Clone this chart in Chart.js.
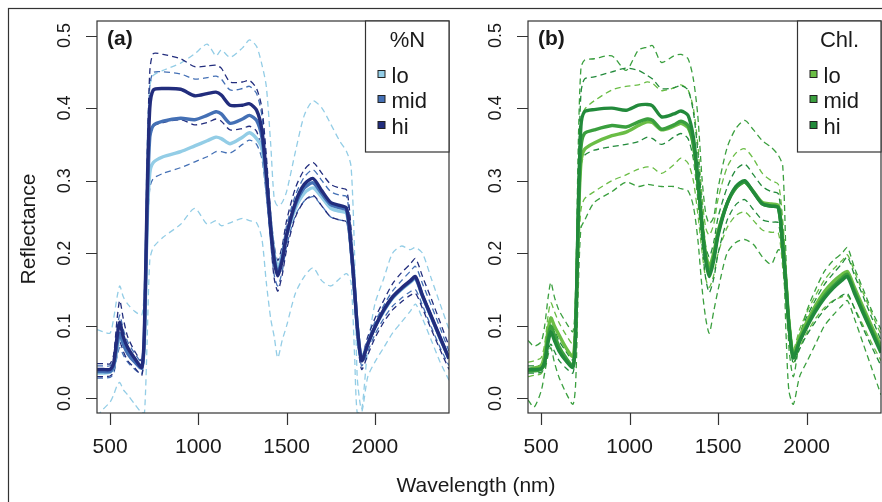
<!DOCTYPE html>
<html>
<head>
<meta charset="utf-8">
<script src="https://cdn.jsdelivr.net/npm/chart.js@4.4.1/dist/chart.umd.min.js"></script>
<style>
  html, body { margin: 0; padding: 0; background: #fff; }
  #wrap { position: relative; width: 882px; height: 502px; overflow: hidden; }
  canvas { position: absolute; left: 0; top: 0; }
</style>
</head>
<body>
<div id="wrap">
  <canvas id="chartA" width="882" height="502"></canvas>
  <canvas id="chartB" width="882" height="502"></canvas>
</div>
<script>
// wavelengths (nm) shared by every series
const wavelength = [426, 460, 500, 520, 540, 555, 575, 600, 640, 680, 695, 710, 725, 745, 800, 900, 980, 1050, 1100, 1130,
  1180, 1250, 1290, 1330, 1360, 1385, 1410, 1430, 1450, 1475, 1500, 1550, 1600, 1650, 1700, 1750, 1800, 1840, 1865, 1885,
  1900, 1925, 1960, 2000, 2050, 2100, 2150, 2200, 2230, 2270, 2320, 2370, 2420];
const xTicks = [500, 1000, 1500, 2000];
const yTicks = [0, 0.1, 0.2, 0.3, 0.4, 0.5];
const yTickLabels = ['0.0', '0.1', '0.2', '0.3', '0.4', '0.5'];
const groups = ['lo', 'mid', 'hi'];

// (a) %N groups: mean (solid) and envelope (dashed)
const nLoMean = [0.035, 0.035, 0.036, 0.043, 0.07, 0.085, 0.075, 0.063, 0.052, 0.045, 0.085, 0.24, 0.31, 0.325, 0.333, 0.34, 0.348, 0.355, 0.36, 0.358,
  0.351, 0.36, 0.366, 0.358, 0.345, 0.3, 0.24, 0.198, 0.18, 0.197, 0.225, 0.262, 0.283, 0.29, 0.277, 0.262, 0.258, 0.255, 0.208, 0.15,
  0.1, 0.055, 0.076, 0.098, 0.12, 0.138, 0.15, 0.16, 0.165, 0.141, 0.112, 0.083, 0.055];
const nMidMean = [0.037, 0.037, 0.037, 0.045, 0.075, 0.09, 0.075, 0.062, 0.05, 0.042, 0.09, 0.26, 0.36, 0.376, 0.382, 0.386, 0.384, 0.39, 0.395, 0.392,
  0.379, 0.385, 0.39, 0.383, 0.36, 0.305, 0.235, 0.192, 0.173, 0.193, 0.225, 0.267, 0.29, 0.297, 0.282, 0.267, 0.263, 0.259, 0.21, 0.15,
  0.1, 0.053, 0.075, 0.098, 0.121, 0.139, 0.151, 0.161, 0.166, 0.141, 0.112, 0.083, 0.055];
const nHiMean = [0.04, 0.04, 0.04, 0.048, 0.085, 0.105, 0.085, 0.07, 0.055, 0.043, 0.1, 0.28, 0.4, 0.425, 0.427, 0.426, 0.417, 0.42, 0.422, 0.418,
  0.404, 0.404, 0.406, 0.397, 0.37, 0.31, 0.235, 0.19, 0.169, 0.19, 0.225, 0.27, 0.295, 0.303, 0.286, 0.27, 0.266, 0.262, 0.21, 0.15,
  0.1, 0.052, 0.075, 0.098, 0.122, 0.14, 0.152, 0.162, 0.168, 0.142, 0.113, 0.084, 0.055];
const nLoUpper = [0.095, 0.092, 0.09, 0.11, 0.14, 0.155, 0.14, 0.13, 0.12, 0.115, 0.16, 0.35, 0.43, 0.445, 0.452, 0.462, 0.475, 0.488, 0.472, 0.48,
  0.47, 0.483, 0.494, 0.485, 0.46, 0.43, 0.35, 0.275, 0.265, 0.27, 0.285, 0.34, 0.39, 0.41, 0.4, 0.378, 0.355, 0.34, 0.32, 0.2,
  0.03, -0.015, 0.07, 0.13, 0.165, 0.2, 0.21, 0.205, 0.208, 0.2, 0.165, 0.13, 0.095];
const nLoLower = [-0.025, -0.015, -0.005, 0.005, 0.018, 0.022, 0.012, 0.005, -0.008, -0.02, -0.02, 0.08, 0.19, 0.208, 0.222, 0.24, 0.262, 0.24, 0.245, 0.238,
  0.242, 0.248, 0.245, 0.242, 0.22, 0.16, 0.11, 0.085, 0.056, 0.08, 0.1, 0.145, 0.168, 0.18, 0.162, 0.155, 0.165, 0.172, 0.16, 0.06,
  -0.02, -0.02, 0.03, 0.05, 0.07, 0.09, 0.105, 0.12, 0.13, 0.11, 0.08, 0.05, 0.025];
const nMidUpper = [0.045, 0.045, 0.045, 0.055, 0.095, 0.115, 0.095, 0.078, 0.062, 0.05, 0.11, 0.31, 0.43, 0.449, 0.45, 0.447, 0.44, 0.442, 0.444, 0.44,
  0.425, 0.427, 0.43, 0.42, 0.39, 0.325, 0.25, 0.205, 0.185, 0.205, 0.238, 0.28, 0.305, 0.315, 0.3, 0.285, 0.28, 0.278, 0.225, 0.16,
  0.105, 0.056, 0.08, 0.105, 0.128, 0.148, 0.162, 0.175, 0.182, 0.158, 0.128, 0.097, 0.065];
const nMidLower = [0.028, 0.028, 0.029, 0.034, 0.058, 0.07, 0.06, 0.05, 0.04, 0.034, 0.075, 0.22, 0.29, 0.303, 0.31, 0.318, 0.326, 0.333, 0.34, 0.34,
  0.338, 0.35, 0.356, 0.35, 0.33, 0.28, 0.215, 0.17, 0.155, 0.175, 0.21, 0.252, 0.272, 0.278, 0.265, 0.25, 0.246, 0.243, 0.19, 0.135,
  0.088, 0.045, 0.065, 0.088, 0.11, 0.127, 0.138, 0.147, 0.15, 0.128, 0.098, 0.07, 0.045];
const nHiUpper = [0.048, 0.048, 0.048, 0.06, 0.11, 0.135, 0.11, 0.085, 0.065, 0.052, 0.12, 0.32, 0.45, 0.475, 0.474, 0.468, 0.457, 0.458, 0.459, 0.455,
  0.436, 0.436, 0.438, 0.427, 0.4, 0.335, 0.255, 0.21, 0.19, 0.21, 0.245, 0.29, 0.315, 0.325, 0.31, 0.295, 0.29, 0.287, 0.235, 0.165,
  0.11, 0.058, 0.085, 0.11, 0.135, 0.158, 0.173, 0.185, 0.193, 0.168, 0.137, 0.105, 0.072];
const nHiLower = [0.03, 0.03, 0.031, 0.036, 0.062, 0.078, 0.065, 0.052, 0.042, 0.032, 0.08, 0.24, 0.355, 0.375, 0.38, 0.384, 0.377, 0.38, 0.385, 0.382,
  0.37, 0.372, 0.375, 0.368, 0.34, 0.285, 0.215, 0.165, 0.148, 0.17, 0.205, 0.25, 0.272, 0.28, 0.265, 0.25, 0.246, 0.243, 0.19, 0.13,
  0.085, 0.04, 0.06, 0.083, 0.105, 0.122, 0.133, 0.142, 0.145, 0.124, 0.095, 0.067, 0.04];

// (b) Chl. groups
const cLoMean = [0.04, 0.042, 0.045, 0.06, 0.095, 0.111, 0.1, 0.088, 0.07, 0.058, 0.1, 0.24, 0.325, 0.343, 0.352, 0.362, 0.367, 0.376, 0.381, 0.38,
  0.37, 0.375, 0.379, 0.373, 0.35, 0.3, 0.238, 0.198, 0.183, 0.2, 0.23, 0.268, 0.29, 0.298, 0.285, 0.27, 0.268, 0.266, 0.215, 0.155,
  0.105, 0.06, 0.085, 0.105, 0.128, 0.147, 0.161, 0.171, 0.175, 0.153, 0.125, 0.098, 0.072];
const cMidMean = [0.038, 0.038, 0.04, 0.05, 0.085, 0.1, 0.088, 0.072, 0.056, 0.045, 0.09, 0.25, 0.345, 0.365, 0.37, 0.376, 0.374, 0.381, 0.385, 0.383,
  0.371, 0.377, 0.382, 0.376, 0.35, 0.3, 0.235, 0.193, 0.175, 0.195, 0.228, 0.268, 0.29, 0.298, 0.284, 0.268, 0.265, 0.263, 0.21, 0.15,
  0.1, 0.057, 0.08, 0.1, 0.123, 0.141, 0.155, 0.166, 0.171, 0.148, 0.12, 0.093, 0.066];
const cHiMean = [0.04, 0.04, 0.041, 0.05, 0.078, 0.092, 0.08, 0.066, 0.052, 0.043, 0.09, 0.26, 0.375, 0.395, 0.398, 0.4, 0.397, 0.404, 0.405, 0.403,
  0.388, 0.392, 0.396, 0.39, 0.36, 0.305, 0.235, 0.19, 0.168, 0.19, 0.225, 0.268, 0.292, 0.3, 0.284, 0.268, 0.265, 0.263, 0.21, 0.15,
  0.1, 0.056, 0.078, 0.098, 0.12, 0.138, 0.152, 0.163, 0.168, 0.145, 0.117, 0.09, 0.063];
const cLoUpper = [0.05, 0.052, 0.056, 0.075, 0.115, 0.132, 0.12, 0.105, 0.088, 0.075, 0.12, 0.29, 0.38, 0.398, 0.41, 0.425, 0.43, 0.432, 0.436, 0.434,
  0.424, 0.428, 0.432, 0.425, 0.4, 0.35, 0.275, 0.235, 0.225, 0.24, 0.275, 0.318, 0.338, 0.344, 0.33, 0.31, 0.3, 0.295, 0.245, 0.175,
  0.12, 0.068, 0.095, 0.118, 0.142, 0.163, 0.178, 0.19, 0.198, 0.175, 0.145, 0.116, 0.088];
const cLoLower = [0.03, 0.032, 0.034, 0.045, 0.075, 0.09, 0.08, 0.07, 0.055, 0.045, 0.08, 0.19, 0.26, 0.275, 0.285, 0.3, 0.308, 0.316, 0.319, 0.318,
  0.31, 0.322, 0.331, 0.324, 0.3, 0.255, 0.2, 0.165, 0.153, 0.17, 0.2, 0.235, 0.252, 0.257, 0.245, 0.232, 0.229, 0.228, 0.18, 0.13,
  0.085, 0.05, 0.07, 0.09, 0.11, 0.125, 0.135, 0.14, 0.142, 0.125, 0.1, 0.075, 0.052];
const cMidUpper = [0.08, 0.072, 0.078, 0.1, 0.14, 0.16, 0.14, 0.122, 0.105, 0.092, 0.15, 0.35, 0.455, 0.466, 0.468, 0.472, 0.452, 0.48, 0.484, 0.486,
  0.463, 0.472, 0.474, 0.468, 0.44, 0.39, 0.3, 0.255, 0.241, 0.25, 0.29, 0.345, 0.372, 0.383, 0.37, 0.355, 0.346, 0.335, 0.32, 0.18,
  0.07, 0.03, 0.08, 0.12, 0.15, 0.175, 0.19, 0.2, 0.208, 0.18, 0.15, 0.12, 0.095];
const cMidLower = [-0.002, -0.012, 0.01, 0.035, 0.06, 0.07, 0.05, 0.03, 0.008, -0.008, 0.02, 0.15, 0.235, 0.245, 0.27, 0.285, 0.298, 0.292, 0.295, 0.294,
  0.292, 0.292, 0.289, 0.286, 0.265, 0.22, 0.15, 0.11, 0.09, 0.12, 0.15, 0.2, 0.215, 0.219, 0.212, 0.195, 0.185, 0.205, 0.2, 0.08,
  0.01, -0.008, 0.03, 0.05, 0.075, 0.1, 0.115, 0.128, 0.135, 0.11, 0.075, 0.04, 0.005];
const cHiUpper = [0.045, 0.045, 0.046, 0.058, 0.095, 0.112, 0.097, 0.08, 0.065, 0.053, 0.105, 0.3, 0.42, 0.44, 0.443, 0.45, 0.455, 0.452, 0.445, 0.44,
  0.427, 0.428, 0.431, 0.425, 0.395, 0.34, 0.26, 0.21, 0.195, 0.215, 0.25, 0.29, 0.315, 0.323, 0.308, 0.292, 0.285, 0.282, 0.23, 0.165,
  0.11, 0.062, 0.088, 0.112, 0.136, 0.157, 0.172, 0.186, 0.195, 0.17, 0.14, 0.11, 0.08];
const cHiLower = [0.035, 0.035, 0.036, 0.042, 0.065, 0.075, 0.065, 0.053, 0.042, 0.035, 0.075, 0.22, 0.32, 0.335, 0.342, 0.347, 0.35, 0.354, 0.36, 0.358,
  0.35, 0.36, 0.365, 0.358, 0.33, 0.275, 0.21, 0.165, 0.146, 0.165, 0.2, 0.245, 0.267, 0.274, 0.26, 0.246, 0.243, 0.242, 0.19, 0.135,
  0.088, 0.048, 0.068, 0.087, 0.106, 0.122, 0.134, 0.142, 0.145, 0.124, 0.096, 0.07, 0.045];

const nColors = ['#93cde6', '#4470b5', '#222d7d'];
const cColors = ['#6abd45', '#3a9f3e', '#228a3b'];
const FONT = '"Liberation Sans", Arial, Helvetica, sans-serif';

function pts(ys) {
  return wavelength.map((w, i) => ({ x: w, y: ys[i] }));
}

function makeDatasets(means, uppers, lowers, colors) {
  const sets = [];
  // solid means on top: hi drawn last
  [2, 1, 0].forEach((g, k) => {
    sets.push({ label: groups[g], data: pts(means[g]), borderColor: colors[g], borderWidth: 3.4, order: k });
  });
  [2, 1, 0].forEach((g, k) => {
    sets.push({ label: groups[g] + ' +', data: pts(uppers[g]), borderColor: colors[g], borderWidth: 1.3, borderDash: [6, 4], order: 3 + k });
    sets.push({ label: groups[g] + ' -', data: pts(lowers[g]), borderColor: colors[g], borderWidth: 1.3, borderDash: [6, 4], order: 3 + k });
  });
  return sets;
}

function panelPlugin(cfg) {
  return {
    id: 'panel_' + cfg.tag,
    afterDraw(chart) {
      const ctx = chart.ctx, a = chart.chartArea;
      const xs = chart.scales.x, ys = chart.scales.y;
      ctx.save();
      ctx.strokeStyle = '#333';
      ctx.fillStyle = '#1a1a1a';
      ctx.lineWidth = 1.2;
      if (cfg.frame) {
        ctx.strokeRect(8.5, 8.5, 900, 520);
      }
      ctx.strokeRect(a.left, a.top, a.right - a.left, a.bottom - a.top);

      // ticks
      ctx.beginPath();
      xTicks.forEach(v => {
        const px = Math.round(xs.getPixelForValue(v)) + 0.5;
        ctx.moveTo(px, a.bottom); ctx.lineTo(px, a.bottom + 12);
      });
      yTicks.forEach(v => {
        const py = Math.round(ys.getPixelForValue(v)) + 0.5;
        ctx.moveTo(a.left, py); ctx.lineTo(a.left - 11, py);
      });
      ctx.stroke();

      // tick labels
      ctx.font = '21px ' + FONT;
      ctx.textAlign = 'center';
      ctx.textBaseline = 'alphabetic';
      xTicks.forEach(v => ctx.fillText(String(v), xs.getPixelForValue(v), 453));
      ctx.font = '18px ' + FONT;
      yTicks.forEach((v, i) => {
        ctx.save();
        ctx.translate(a.left - 27, ys.getPixelForValue(v));
        ctx.rotate(-Math.PI / 2);
        ctx.fillText(yTickLabels[i], 0, 0);
        ctx.restore();
      });

      // panel letter
      ctx.font = 'bold 21px ' + FONT;
      ctx.textAlign = 'left';
      ctx.fillText(cfg.letter, a.left + 10, 45);

      // legend
      const lx = a.right - 83.5, ly = a.top;
      ctx.fillStyle = '#fff';
      ctx.fillRect(lx, ly, a.right - lx, 131);
      ctx.strokeRect(lx, ly, a.right - lx, 131);
      ctx.fillStyle = '#1a1a1a';
      ctx.font = '22px ' + FONT;
      ctx.textAlign = 'center';
      ctx.fillText(cfg.title, lx + 42, 47);
      ctx.textAlign = 'left';
      groups.forEach((g, i) => {
        const by = [83, 108, 134][i];
        ctx.fillStyle = cfg.colors[i];
        ctx.fillRect(lx + 12.5, by - 12.5, 7, 7);
        ctx.lineWidth = 1;
        ctx.strokeStyle = '#222';
        ctx.strokeRect(lx + 12.5, by - 12.5, 7, 7);
        ctx.fillStyle = '#1a1a1a';
        ctx.fillText(g, lx + 26, by);
      });

      if (cfg.titles) {
        ctx.font = '21px ' + FONT;
        ctx.textAlign = 'center';
        ctx.fillText('Wavelength (nm)', 476, 492);
        ctx.save();
        ctx.translate(35, 229);
        ctx.rotate(-Math.PI / 2);
        ctx.fillText('Reflectance', 0, 0);
        ctx.restore();
      }
      ctx.restore();
    }
  };
}

function makeChart(id, datasets, padding, plugin) {
  return new Chart(document.getElementById(id), {
    type: 'line',
    data: { datasets: datasets },
    options: {
      responsive: false,
      animation: false,
      devicePixelRatio: 1,
      layout: { padding: padding },
      elements: { point: { radius: 0 }, line: { tension: 0.25, borderCapStyle: 'butt' } },
      plugins: { legend: { display: false }, tooltip: { enabled: false } },
      scales: {
        x: { type: 'linear', min: 426, max: 2420, display: false },
        y: { type: 'linear', min: -0.02, max: 0.52, display: false }
      }
    },
    plugins: [plugin]
  });
}

makeChart('chartA',
  makeDatasets([nLoMean, nMidMean, nHiMean], [nLoUpper, nMidUpper, nHiUpper], [nLoLower, nMidLower, nHiLower], nColors),
  { left: 97, top: 21, right: 433, bottom: 89 },
  panelPlugin({ tag: 'a', letter: '(a)', title: '%N', colors: nColors, frame: true, titles: true }));

makeChart('chartB',
  makeDatasets([cLoMean, cMidMean, cHiMean], [cLoUpper, cMidUpper, cHiUpper], [cLoLower, cMidLower, cHiLower], cColors),
  { left: 528, top: 21, right: 1, bottom: 89 },
  panelPlugin({ tag: 'b', letter: '(b)', title: 'Chl.', colors: cColors, frame: false, titles: false }));
</script>
</body>
</html>
